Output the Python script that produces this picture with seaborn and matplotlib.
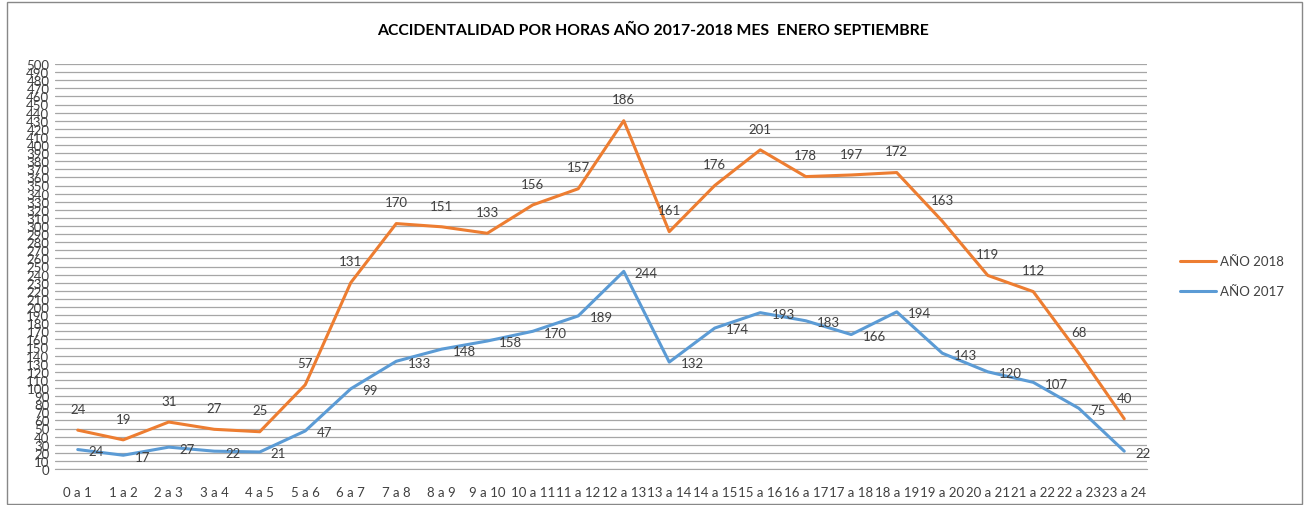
import numpy as np
import pandas as pd
import matplotlib.pyplot as plt
import seaborn as sns
from matplotlib.patches import Rectangle

horas = ["0 a 1", "1 a 2", "2 a 3", "3 a 4", "4 a 5", "5 a 6", "6 a 7", "7 a 8",
         "8 a 9", "9 a 10", "10 a 11", "11 a 12", "12 a 13", "13 a 14", "14 a 15",
         "15 a 16", "16 a 17", "17 a 18", "18 a 19", "19 a 20", "20 a 21", "21 a 22",
         "22 a 23", "23 a 24"]
anio_2017 = [24, 17, 27, 22, 21, 47, 99, 133, 148, 158, 170, 189, 244, 132, 174,
             193, 183, 166, 194, 143, 120, 107, 75, 22]
anio_2018 = [24, 19, 31, 27, 25, 57, 131, 170, 151, 133, 156, 157, 186, 161, 176,
             201, 178, 197, 172, 163, 119, 112, 68, 40]

sns.set_style("white")
plt.rcParams['font.family'] = ['Lato', 'DejaVu Sans']

# stacked line chart (Excel style): 2018 drawn on top of 2017
x = np.arange(len(horas))
base = np.array(anio_2017)
top = base + np.array(anio_2018)
df = pd.DataFrame({"x": np.concatenate([x, x]),
                   "y": np.concatenate([top, base]),
                   "serie": ["AÑO 2018"] * len(x) + ["AÑO 2017"] * len(x)})

fig = plt.figure(figsize=(13.09, 5.06), dpi=100)
ax = fig.add_axes([55 / 1309, 1 - 470 / 506, (1147 - 55) / 1309, (470 - 65) / 506])
sns.lineplot(data=df, x="x", y="y", hue="serie", palette={"AÑO 2018": "#ed7d31", "AÑO 2017": "#5b9bd5"},
             linewidth=2.2, ax=ax, legend=False)

ax.set_xlim(-0.5, len(horas) - 0.5)
ax.set_ylim(0, 500)
ax.set_yticks(np.arange(0, 501, 10))
ax.set_yticklabels([str(v) for v in range(0, 501, 10)], fontsize=9.5, color="#404040")
ax.set_xticks(x)
ax.set_xticklabels(horas, fontsize=9.5, color="#404040")
ax.tick_params(axis="x", length=0, pad=12)
ax.tick_params(axis="y", length=0, pad=4)
ax.grid(axis="y", color="#a6a6a6", linewidth=0.9)
ax.set_axisbelow(True)
ax.set_xlabel("")
ax.set_ylabel("")
for s in ["left", "right", "top"]:
    ax.spines[s].set_visible(False)
ax.spines["bottom"].set_color("#a6a6a6")

for i in x:
    ax.annotate(str(anio_2018[i]), (i, top[i]), xytext=(0, 11), textcoords="offset points",
                ha="center", va="bottom", fontsize=9.5, color="#404040")
    ax.annotate(str(anio_2017[i]), (i, base[i]), xytext=(8, -1), textcoords="offset points",
                ha="left", va="center", fontsize=9.5, color="#404040")

fig.text(0.499, 1 - 31 / 506, "ACCIDENTALIDAD POR HORAS AÑO 2017-2018 MES  ENERO SEPTIEMBRE",
         ha="center", va="center", fontsize=11.3, fontweight="bold", color="#000000")

# legend
for yy, lab, col in [(262, "AÑO 2018", "#ed7d31"), (292, "AÑO 2017", "#5b9bd5")]:
    fig.add_artist(plt.Line2D([1180 / 1309, 1216 / 1309], [1 - yy / 506, 1 - yy / 506],
                              color=col, linewidth=2.2))
    fig.text(1220 / 1309, 1 - yy / 506, lab, ha="left", va="center", fontsize=9.5, color="#404040")

fig.add_artist(Rectangle((7 / 1309, 0.002), (1302 - 7) / 1309, 0.993, fill=False,
                         edgecolor="#888888", linewidth=1, transform=fig.transFigure))

fig.savefig("out.png", dpi=100)
